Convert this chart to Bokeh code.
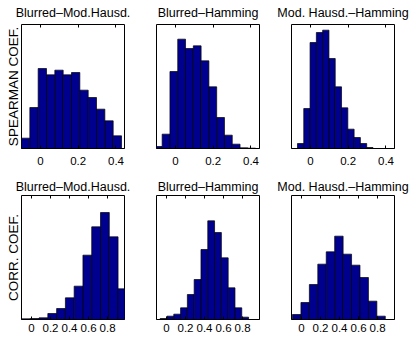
import numpy as np
from bokeh.plotting import figure
from bokeh.layouts import row, column
from bokeh.models import (LinearAxis, FixedTicker, Range1d, ColumnDataSource,
                          CustomJSTickFormatter)
from bokeh.embed import file_html
from bokeh.resources import INLINE

# ---- data -------------------------------------------------------------
pair_titles = ["Blurred\u2013Mod.Hausd.", "Blurred\u2013Hamming", "Mod. Hausd.\u2013Hamming"]
measure_labels = ["SPEARMAN COEF.", "CORR. COEF."]
spearman_ticks = [0, 0.2, 0.4]
corr_ticks = [0, 0.2, 0.4, 0.6, 0.8]

# Spearman coefficient histograms: first bin edge, bin width, counts
spearman_bm_edge0, spearman_bm_binw = -0.100, 0.0441
spearman_bm_counts = [31, 123, 240, 221, 235, 221, 228, 175, 153, 118, 83, 38]
spearman_bh_edge0, spearman_bh_binw = -0.1112, 0.0412
spearman_bh_counts = [6, 43, 231, 328, 300, 308, 263, 185, 93, 40, 13, 2, 1]
spearman_mh_edge0, spearman_mh_binw = -0.0684, 0.0333
spearman_mh_counts = [15, 120, 318, 348, 355, 270, 185, 122, 58, 33, 15, 3]

# Correlation coefficient histograms
corr_bm_edge0, corr_bm_binw = -0.105, 0.0923
corr_bm_counts = [2, 3, 5, 18, 33, 65, 100, 193, 278, 321, 248, 92]
corr_bh_edge0, corr_bh_binw = -0.0664, 0.0715
corr_bh_counts = [3, 10, 16, 35, 75, 120, 210, 296, 261, 185, 95, 35, 7]
corr_mh_edge0, corr_mh_binw = -0.0945, 0.0887
corr_mh_counts = [15, 51, 105, 166, 203, 250, 196, 163, 126, 55, 10]

spearman_xlim = (-0.1, 0.445)
corr_xlim = (-0.105, 0.978)
count_max = 372

FONT = "Liberation Sans"
BAR_FILL = "#00008F"


def hist_panel(title, edge0, binw, counts, xlim, ticks, ylabel,
               fig_w, fig_h, border_r, border_b, label_standoff, title_standoff):
    p = figure(width=fig_w, height=fig_h,
               x_range=Range1d(*xlim), y_range=Range1d(0, count_max),
               x_axis_location=None, y_axis_location=None,
               toolbar_location=None, output_backend="svg",
               min_border_left=21, min_border_right=border_r,
               min_border_top=24, min_border_bottom=border_b)
    p.grid.visible = False
    left = edge0 + binw * np.arange(len(counts))
    src = ColumnDataSource(dict(left=left, right=left + binw, top=counts))
    p.quad(left="left", right="right", bottom=0, top="top", source=src,
           fill_color=BAR_FILL, line_color="black", line_width=0.7)

    fmt = CustomJSTickFormatter(code="return tick.toString()")
    xb = LinearAxis(ticker=FixedTicker(ticks=ticks), formatter=fmt,
                    major_tick_in=3, major_tick_out=0,
                    minor_tick_line_color=None,
                    major_label_text_font=FONT,
                    major_label_text_font_size="11.5px",
                    major_label_text_color="black",
                    major_label_standoff=label_standoff,
                    axis_line_color="black")
    p.add_layout(xb, "below")
    # tick marks along the top edge of the box, without labels
    xt = LinearAxis(ticker=FixedTicker(ticks=ticks),
                    major_tick_in=3, major_tick_out=0,
                    minor_tick_line_color=None,
                    major_label_text_color=None,
                    major_label_text_font_size="1px",
                    major_label_standoff=0,
                    axis_line_color=None)
    p.add_layout(xt, "above")
    if ylabel:
        yl = LinearAxis(ticker=FixedTicker(ticks=[]),
                        major_tick_line_color=None, minor_tick_line_color=None,
                        major_label_text_color=None,
                        major_label_text_font_size="1px", major_label_standoff=0,
                        axis_line_color=None,
                        axis_label=ylabel, axis_label_standoff=1,
                        axis_label_text_font=FONT,
                        axis_label_text_font_size="13.5px",
                        axis_label_text_font_style="normal",
                        axis_label_text_color="black")
        p.add_layout(yl, "left")

    p.title.text = title
    p.title.align = "center"
    p.title.vertical_align = "top"
    p.title.text_font = FONT
    p.title.text_font_size = "12.5px"
    p.title.text_font_style = "normal"
    p.title.text_color = "black"
    p.title.standoff = title_standoff

    p.outline_line_color = "black"
    p.outline_line_width = 1
    p.background_fill_color = "white"
    p.border_fill_color = "white"
    return p


widths = [135, 135, 145]
right_borders = [11, 11, 21]

top_data = [
    (spearman_bm_edge0, spearman_bm_binw, spearman_bm_counts),
    (spearman_bh_edge0, spearman_bh_binw, spearman_bh_counts),
    (spearman_mh_edge0, spearman_mh_binw, spearman_mh_counts),
]
bottom_data = [
    (corr_bm_edge0, corr_bm_binw, corr_bm_counts),
    (corr_bh_edge0, corr_bh_binw, corr_bh_counts),
    (corr_mh_edge0, corr_mh_binw, corr_mh_counts),
]

top_row = []
for i, (e0, bw, c) in enumerate(top_data):
    top_row.append(hist_panel(pair_titles[i], e0, bw, c, spearman_xlim, spearman_ticks,
                              measure_labels[0] if i == 0 else None,
                              widths[i], 171, right_borders[i], 23, 8, 5))
bottom_row = []
for i, (e0, bw, c) in enumerate(bottom_data):
    bottom_row.append(hist_panel(pair_titles[i], e0, bw, c, corr_xlim, corr_ticks,
                                 measure_labels[1] if i == 0 else None,
                                 widths[i], 167, right_borders[i], 19, 4, 0))

layout = column(row(*top_row), row(*bottom_row))

with open("out.html", "w") as f:
    f.write(file_html(layout, INLINE))
